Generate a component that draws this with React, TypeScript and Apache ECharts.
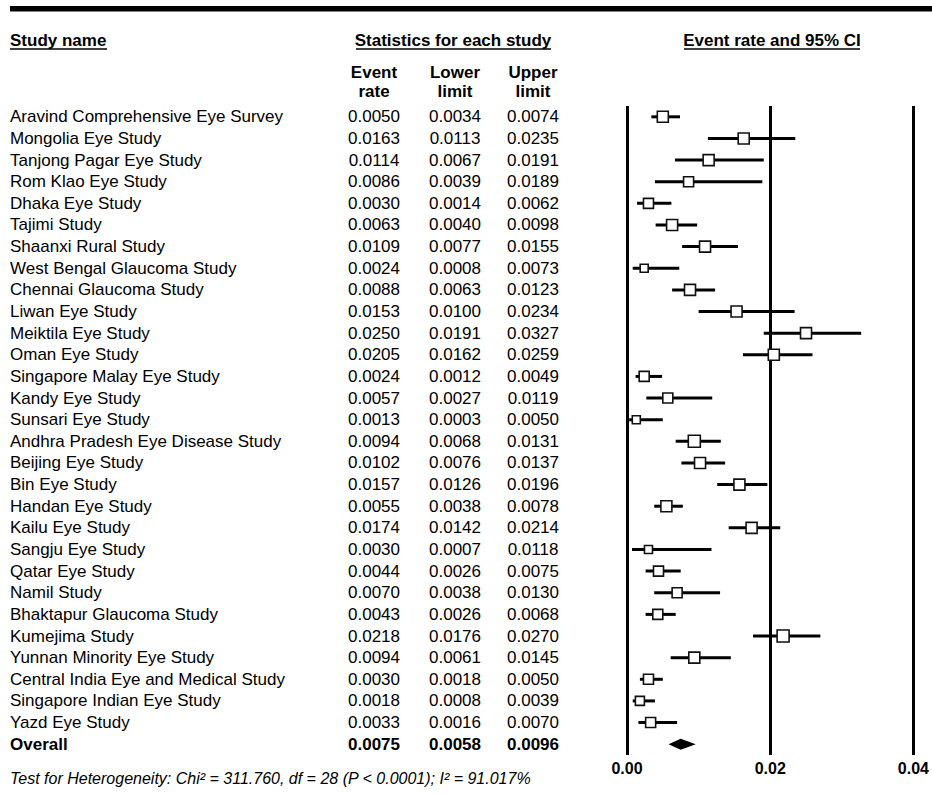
import React, { useEffect, useRef } from "react";
import * as echarts from "echarts";

const studies = [
  "Aravind Comprehensive Eye Survey",
  "Mongolia Eye Study",
  "Tanjong Pagar Eye Study",
  "Rom Klao Eye Study",
  "Dhaka Eye Study",
  "Tajimi Study",
  "Shaanxi Rural Study",
  "West Bengal Glaucoma Study",
  "Chennai Glaucoma Study",
  "Liwan Eye Study",
  "Meiktila Eye Study",
  "Oman Eye Study",
  "Singapore Malay Eye Study",
  "Kandy Eye Study",
  "Sunsari Eye Study",
  "Andhra Pradesh Eye Disease Study",
  "Beijing Eye Study",
  "Bin Eye Study",
  "Handan Eye Study",
  "Kailu Eye Study",
  "Sangju Eye Study",
  "Qatar Eye Study",
  "Namil Study",
  "Bhaktapur Glaucoma Study",
  "Kumejima Study",
  "Yunnan Minority Eye Study",
  "Central India Eye and Medical Study",
  "Singapore Indian Eye Study",
  "Yazd Eye Study",
];

const eventRate = [
  0.005, 0.0163, 0.0114, 0.0086, 0.003, 0.0063, 0.0109, 0.0024, 0.0088, 0.0153,
  0.025, 0.0205, 0.0024, 0.0057, 0.0013, 0.0094, 0.0102, 0.0157, 0.0055, 0.0174,
  0.003, 0.0044, 0.007, 0.0043, 0.0218, 0.0094, 0.003, 0.0018, 0.0033,
];
const lowerLimit = [
  0.0034, 0.0113, 0.0067, 0.0039, 0.0014, 0.004, 0.0077, 0.0008, 0.0063, 0.01,
  0.0191, 0.0162, 0.0012, 0.0027, 0.0003, 0.0068, 0.0076, 0.0126, 0.0038, 0.0142,
  0.0007, 0.0026, 0.0038, 0.0026, 0.0176, 0.0061, 0.0018, 0.0008, 0.0016,
];
const upperLimit = [
  0.0074, 0.0235, 0.0191, 0.0189, 0.0062, 0.0098, 0.0155, 0.0073, 0.0123, 0.0234,
  0.0327, 0.0259, 0.0049, 0.0119, 0.005, 0.0131, 0.0137, 0.0196, 0.0078, 0.0214,
  0.0118, 0.0075, 0.013, 0.0068, 0.027, 0.0145, 0.005, 0.0039, 0.007,
];
// relative box sizes (study weights)
const boxSize = [
  11, 11, 11, 10, 10, 11, 11, 8, 11, 11, 11, 11, 10, 10, 8, 12, 11, 11, 11, 11,
  8, 10, 10, 10, 12, 11, 10, 9, 10,
];

const overallLabel = "Overall";
const overallStats = [0.0075, 0.0058, 0.0096]; // rate, lower, upper

const xTicks = { min: 0, max: 0.04, interval: 0.02 };
const footerText =
  "Test for Heterogeneity: Chi\u00B2 = 311.760, df = 28 (P < 0.0001); I\u00B2 = 91.017%";

const FONT = "'Liberation Sans', Arial, Helvetica, sans-serif";

export default function App() {
  const ref = useRef<HTMLDivElement>(null);

  useEffect(() => {
    if (!ref.current) return;
    const chart = echarts.init(ref.current, null, { renderer: "svg" });

    const categories = [...studies, overallLabel];
    const nLast = categories.length - 1;
    const rates = [...eventRate.map((v) => v.toFixed(4)), overallStats[0].toFixed(4)];
    const lows = [...lowerLimit.map((v) => v.toFixed(4)), overallStats[1].toFixed(4)];
    const ups = [...upperLimit.map((v) => v.toFixed(4)), overallStats[2].toFixed(4)];

    const colAxis = (labels: string[], margin: number, align: string) => ({
      type: "category",
      data: categories,
      inverse: true,
      position: "left",
      axisLine: { show: false },
      axisTick: { show: false },
      splitLine: { show: false },
      axisLabel: {
        interval: 0,
        margin,
        align,
        color: "#000",
        fontSize: 17,
        fontFamily: FONT,
        formatter: (_v: string, i: number) =>
          i === nLast ? `{b|${labels[i]}}` : labels[i],
        rich: {
          b: { fontWeight: "bold", fontSize: 17, fontFamily: FONT, color: "#000" },
        },
      },
    });

    const headFont = `bold 17px ${FONT}`;
    const text = (t: string, x: number, y: number, align: string, font = headFont) => ({
      type: "text",
      x,
      y,
      style: {
        text: t,
        font,
        fill: "#000",
        textAlign: align,
        textVerticalAlign: "middle",
      },
    });
    const uline = (x1: number, x2: number, y: number) => ({
      type: "line",
      shape: { x1, y1: y, x2, y2: y },
      style: { stroke: "#000", lineWidth: 1.5 },
    });

    chart.setOption({
      animation: false,
      backgroundColor: "#fff",
      grid: { left: 627, right: 15, top: 106, bottom: 40, containLabel: false },
      xAxis: {
        type: "value",
        min: xTicks.min,
        max: xTicks.max,
        interval: xTicks.interval,
        axisLine: { show: false },
        axisTick: { show: false },
        axisLabel: {
          margin: 5,
          color: "#000",
          fontWeight: "bold",
          fontSize: 16,
          fontFamily: FONT,
          formatter: (v: number) => v.toFixed(2),
        },
        splitLine: { show: true, lineStyle: { color: "#000", width: 3 } },
      },
      yAxis: [
        colAxis(categories, 617, "left"),
        colAxis(rates, 253, "center"),
        colAxis(lows, 172, "center"),
        colAxis(ups, 94, "center"),
      ],
      series: [
        {
          type: "custom",
          name: "ci",
          yAxisIndex: 0,
          z: 2,
          encode: { x: [0, 1], y: 2 },
          data: studies.map((_, i) => [lowerLimit[i], upperLimit[i], i]),
          renderItem: (_p: any, api: any) => {
            const y = api.value(2);
            const a = api.coord([api.value(0), y]);
            const b = api.coord([api.value(1), y]);
            return {
              type: "line",
              shape: { x1: a[0], y1: a[1], x2: b[0], y2: b[1] },
              style: { stroke: "#000", lineWidth: 3 },
            };
          },
        },
        {
          type: "scatter",
          name: "rate",
          yAxisIndex: 0,
          z: 3,
          symbol: "rect",
          symbolSize: (_v: any, p: any) => boxSize[p.dataIndex],
          itemStyle: { color: "#fff", borderColor: "#111", borderWidth: 1.6, opacity: 1 },
          data: studies.map((_, i) => [eventRate[i], i]),
        },
        {
          type: "custom",
          name: "overall",
          yAxisIndex: 0,
          z: 3,
          encode: { x: [0, 1, 2], y: 3 },
          data: [[overallStats[1], overallStats[0], overallStats[2], nLast]],
          renderItem: (_p: any, api: any) => {
            const y = api.value(3);
            const lo = api.coord([api.value(0), y]);
            const mid = api.coord([api.value(1), y]);
            const hi = api.coord([api.value(2), y]);
            const h = 5.5;
            return {
              type: "polygon",
              shape: {
                points: [
                  [lo[0], lo[1]],
                  [mid[0], mid[1] - h],
                  [hi[0], hi[1]],
                  [mid[0], mid[1] + h],
                ],
              },
              style: { fill: "#000" },
            };
          },
        },
      ],
      graphic: [
        { type: "rect", shape: { x: 10, y: 6, width: 922, height: 5.5 }, style: { fill: "#000" } },
        text("Study name", 10, 40, "left"),
        uline(10, 107, 49),
        text("Statistics for each study", 453, 40, "center"),
        uline(356, 551, 49),
        text("Event rate and 95% CI", 772, 40, "center"),
        uline(684, 860, 49),
        text("Event", 374, 72, "center"),
        text("rate", 374, 91, "center"),
        text("Lower", 455, 72, "center"),
        text("limit", 455, 91, "center"),
        text("Upper", 533, 72, "center"),
        text("limit", 533, 91, "center"),
        text(footerText, 10, 778, "left", `italic 16px ${FONT}`),
      ],
    });

    return () => chart.dispose();
  }, []);

  return (
    <div
      ref={ref}
      style={{ position: "fixed", left: 0, top: 0, width: 932, height: 795, background: "#fff" }}
    />
  );
}
